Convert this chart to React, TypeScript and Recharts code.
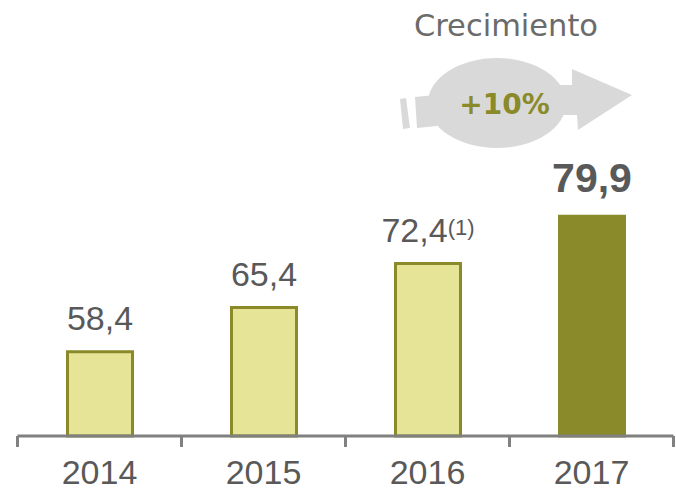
import React from "react";
import { BarChart, Bar, XAxis, YAxis, Cell, LabelList, Customized } from "recharts";

const years = ["2014", "2015", "2016", "2017"];
const values = [58.4, 65.4, 72.4, 79.9];
const labels = ["58,4", "65,4", "72,4", "79,9"];
const notes = ["", "", "(1)", ""];
const edgeTicks = [0, 1, 2, 3, 4];
const rows = years.map((year, i) => ({ year, edge: i, value: values[i], label: labels[i], note: notes[i] }));

const GREY = "#595959";
const SOFT = "#6b6b6b";
const OLIVE = "#8a8a2a";
const PALE = "#e6e496";
const SHAPE = "#d9d9d9";
const AXIS = "#808080";
const SANS = "'Liberation Sans', Arial, sans-serif";

function ValueLabel(props: any) {
  const { x, y, width, index } = props;
  const strong = index === 3;
  return (
    <text
      x={x + width / 2}
      y={y - (strong ? 24 : 22)}
      textAnchor="middle"
      fontFamily={SANS}
      fontSize={strong ? 41 : 34}
      fontWeight={strong ? 700 : 400}
      fill={GREY}
    >
      {labels[index]}
      {notes[index] ? (
        <tspan fontSize={22} dy={-7}>
          {notes[index]}
        </tspan>
      ) : null}
    </text>
  );
}

function EmptyTick() {
  return <g />;
}

function Growth() {
  return (
    <g>
      <text x={506} y={36} textAnchor="middle" fontFamily="'DejaVu Sans', sans-serif" fontSize={30.5} fill={SOFT}>
        Crecimiento
      </text>
      <polygon points="400,99 406,98 410,128 403,129" fill={SHAPE} />
      <polygon points="415,97 435,95 437,126 417,128" fill={SHAPE} />
      <polygon points="550,85 572,85 572,69 632,95 578,130 577,115 550,115" fill={SHAPE} />
      <ellipse cx={497} cy={103} rx={69} ry={45} fill={SHAPE} />
      <text x={504.5} y={114} textAnchor="middle" fontFamily="'DejaVu Sans', sans-serif" fontSize={28} fontWeight={700} fill={OLIVE}>
        +10%
      </text>
    </g>
  );
}

export default function App() {
  return (
    <div style={{ position: "absolute", left: 0, top: 0, width: 676, height: 489 }}>
      <BarChart
        width={676}
        height={489}
        data={rows}
        margin={{ top: 8, right: 2.5, bottom: 0, left: 17.5 }}
        barCategoryGap={0}
      >
        <YAxis hide domain={[45, 113]} />
        <XAxis
          xAxisId="edges"
          dataKey="edge"
          type="number"
          domain={[0, 4]}
          ticks={edgeTicks}
          tick={EmptyTick}
          height={1}
          allowDataOverflow
          axisLine={{ stroke: AXIS, strokeWidth: 3 }}
          tickLine={{ stroke: AXIS, strokeWidth: 3 }}
          tickSize={11}
          interval={0}
        />
        <XAxis
          dataKey="year"
          xAxisId="years"
          height={52}
          axisLine={false}
          tickLine={false}
          tickSize={0}
          tickMargin={23}
          tick={{ fontFamily: SANS, fontSize: 34, fill: GREY }}
          interval={0}
        />
        <Bar dataKey="value" xAxisId="years" barSize={65} stroke={OLIVE} strokeWidth={3} isAnimationActive={false}>
          {rows.map((r, i) => (
            <Cell key={r.year} fill={i === 3 ? OLIVE : PALE} />
          ))}
          <LabelList dataKey="value" content={ValueLabel} />
        </Bar>
        <Customized component={Growth} />
      </BarChart>
    </div>
  );
}
